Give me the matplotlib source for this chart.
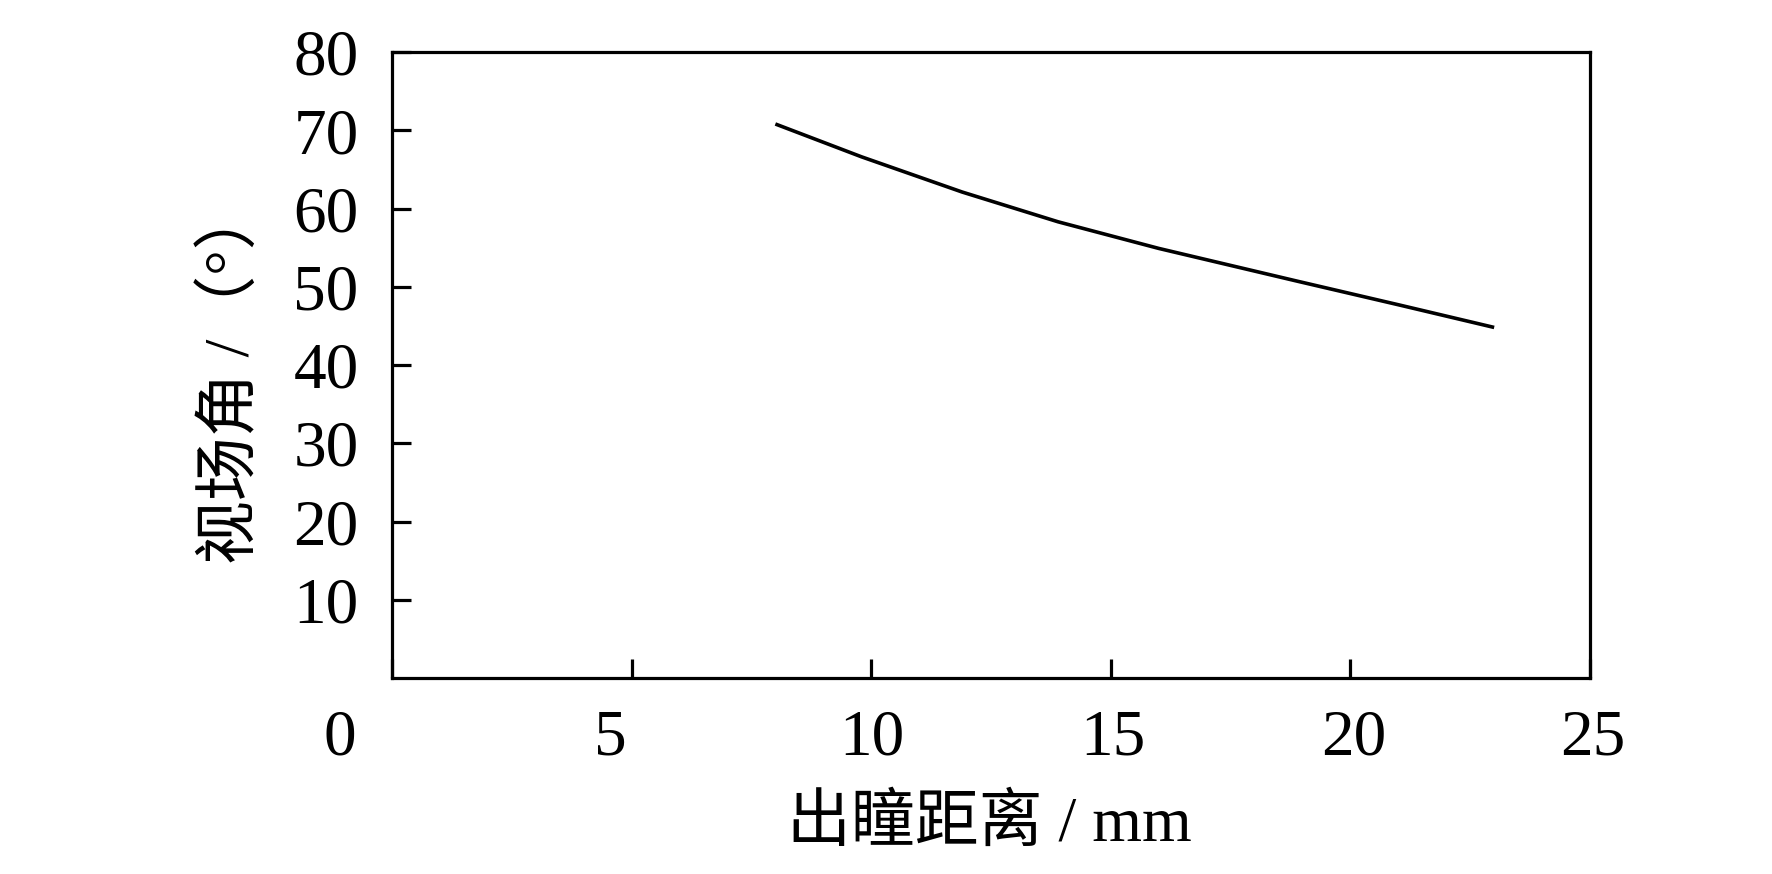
import matplotlib
matplotlib.use("Agg")
import matplotlib.pyplot as plt
from matplotlib.transforms import ScaledTranslation

plt.rcParams['font.family'] = ['Liberation Serif', 'Noto Sans CJK SC', 'DejaVu Sans']

# data
exit_pupil_mm = [8.0, 9.8, 11.9, 13.9, 16.0, 18.9, 21.0, 23.0]
field_angle_deg = [70.8, 66.6, 62.1, 58.3, 54.9, 50.7, 47.7, 44.8]

x_ticks = [0, 5, 10, 15, 20, 25]
y_ticks = [10, 20, 30, 40, 50, 60, 70, 80]
x_label = "出瞳距离 / mm"
y_label = "视场角 /（°）"

W, H = 1772, 874
L, R, T, B = 392, 1590, 52, 678
fig = plt.figure(figsize=(W / 100, H / 100), dpi=100)
ax = fig.add_axes([L / W, 1 - B / H, (R - L) / W, (B - T) / H])

ax.plot(exit_pupil_mm, field_angle_deg, color='black', lw=2.6,
        solid_joinstyle='round', solid_capstyle='butt')

ax.set_xlim(0, 25)
ax.set_ylim(0, 80)
ax.set_xticks(x_ticks)
ax.set_yticks(y_ticks)
ax.set_xticklabels([str(v) for v in x_ticks])
ax.set_yticklabels([str(v) for v in y_ticks])

for s in ax.spines.values():
    s.set_linewidth(2.3)
ax.tick_params(axis='both', direction='in', length=13.5, width=2.3,
               labelsize=47, colors='black')
ax.tick_params(axis='y', pad=24)
ax.tick_params(axis='x', pad=22)

# the reference places the first x labels slightly left of their ticks
offsets_px = [-52, -21, 1, 2, 3, 3]
for tk, dx in zip(ax.xaxis.get_major_ticks(), offsets_px):
    lab = tk.label1
    lab.set_transform(lab.get_transform() + ScaledTranslation(dx / 100, 0, fig.dpi_scale_trans))

ax.set_xlabel(x_label, fontsize=46, va='center')
ax.xaxis.set_label_coords((989 - L) / (R - L), (B - 825) / (B - T))
ax.set_ylabel(y_label, fontsize=46, va='center', ha='center')
ax.yaxis.set_label_coords((232 - L) / (R - L), (B - 375) / (B - T))

fig.savefig("out.png", dpi=100)
